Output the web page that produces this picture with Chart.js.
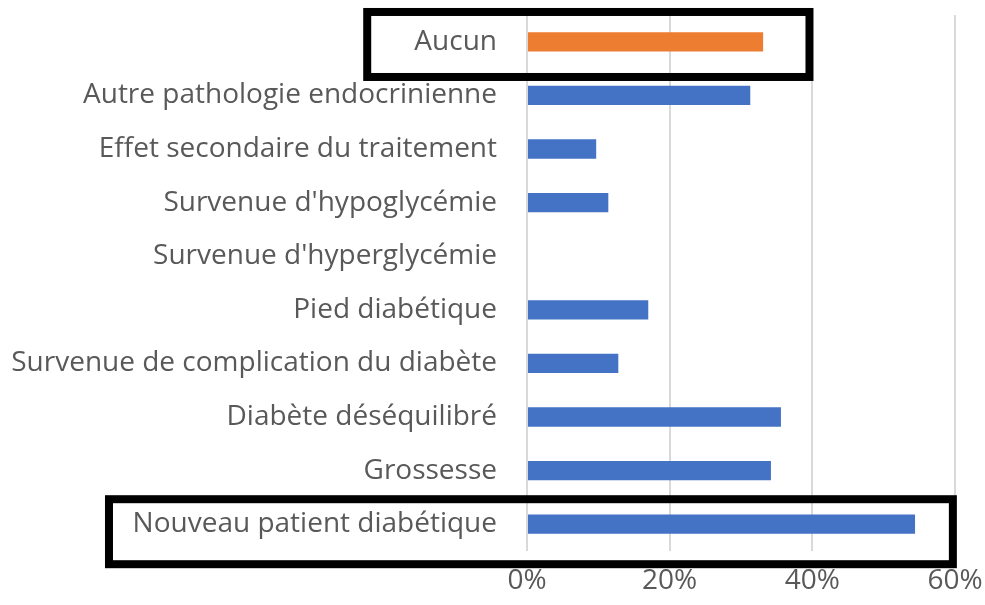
<!DOCTYPE html>
<html lang="fr">
<head>
<meta charset="utf-8">
<script src="https://cdn.jsdelivr.net/npm/chart.js@4/dist/chart.umd.min.js"></script>
<style>
    html, body { margin: 0; padding: 0; background: #fff; }
    #wrap { width: 985px; height: 605px; }
</style>
</head>
<body>
<div id="wrap"><canvas id="motifChart"></canvas></div>
<script>
// Data (percent)
const categories = [
    'Aucun',
    'Autre pathologie endocrinienne',
    'Effet secondaire du traitement',
    "Survenue d'hypoglycémie",
    "Survenue d'hyperglycémie",
    'Pied diabétique',
    'Survenue de complication du diabète',
    'Diabète déséquilibré',
    'Grossesse',
    'Nouveau patient diabétique'
];
const values = [33.1, 31.3, 9.7, 11.4, 0, 17.0, 12.8, 35.6, 34.2, 54.4];
const xTicks = [0, 20, 40, 60];

const blue = '#4472C4';
const orange = '#ED7D31';
const textColor = '#595959';
const fontFamily = "'Open Sans', sans-serif";

// Black frames around two categories (x in value units, y as category index + small offset)
const frames = [
    { index: 0, from: -22.4, to: 39.6, shift: 0.05 },
    { index: 9, from: -58.6, to: 59.7, shift: 0.14 }
];

const framePlugin = {
    id: 'frames',
    afterDraw(chart) {
        const ctx = chart.ctx;
        const x = chart.scales.x;
        const y = chart.scales.y;
        const half = 32.5;
        ctx.save();
        ctx.strokeStyle = '#000';
        ctx.lineWidth = 8;
        frames.forEach(f => {
            const cy = y.getPixelForValue(f.index + f.shift);
            const x1 = x.getPixelForValue(f.from);
            const x2 = x.getPixelForValue(f.to);
            ctx.strokeRect(x1, cy - half, x2 - x1, half * 2);
        });
        ctx.restore();
    }
};

const ctx = document.getElementById('motifChart').getContext('2d');
const chart = new Chart(ctx, {
    type: 'bar',
    data: {
        labels: categories,
        datasets: [{
            data: values,
            backgroundColor: categories.map((c, i) => i === 0 ? orange : blue),
            borderWidth: 0,
            barPercentage: 0.36,
            categoryPercentage: 1
        }]
    },
    options: {
        indexAxis: 'y',
        responsive: true,
        maintainAspectRatio: false,
        animation: false,
        layout: { padding: { top: 15, right: 30, left: 0, bottom: 0 } },
        scales: {
            x: {
                min: 0,
                max: 60,
                afterBuildTicks: function(scale) {
                    scale.ticks = xTicks.map(v => ({ value: v }));
                },
                afterFit: function(scale) {
                    scale.height = 54;
                    scale.paddingLeft = 0;
                    scale.paddingRight = 0;
                },
                grid: { color: '#d9d9d9', lineWidth: 2, drawTicks: false },
                border: { display: false },
                ticks: {
                    color: textColor,
                    padding: 13,
                    font: { family: fontFamily, size: 28 },
                    callback: function(value) { return value + '%'; }
                }
            },
            y: {
                afterFit: function(scale) {
                    scale.width = 527;
                    scale.paddingTop = 0;
                    scale.paddingBottom = 0;
                },
                grid: { display: false, drawTicks: false },
                border: { display: false },
                ticks: {
                    color: textColor,
                    padding: 30,
                    font: { family: fontFamily, size: 28 }
                }
            }
        },
        plugins: {
            legend: { display: false },
            tooltip: { enabled: false }
        }
    },
    plugins: [framePlugin]
});
</script>
</body>
</html>
